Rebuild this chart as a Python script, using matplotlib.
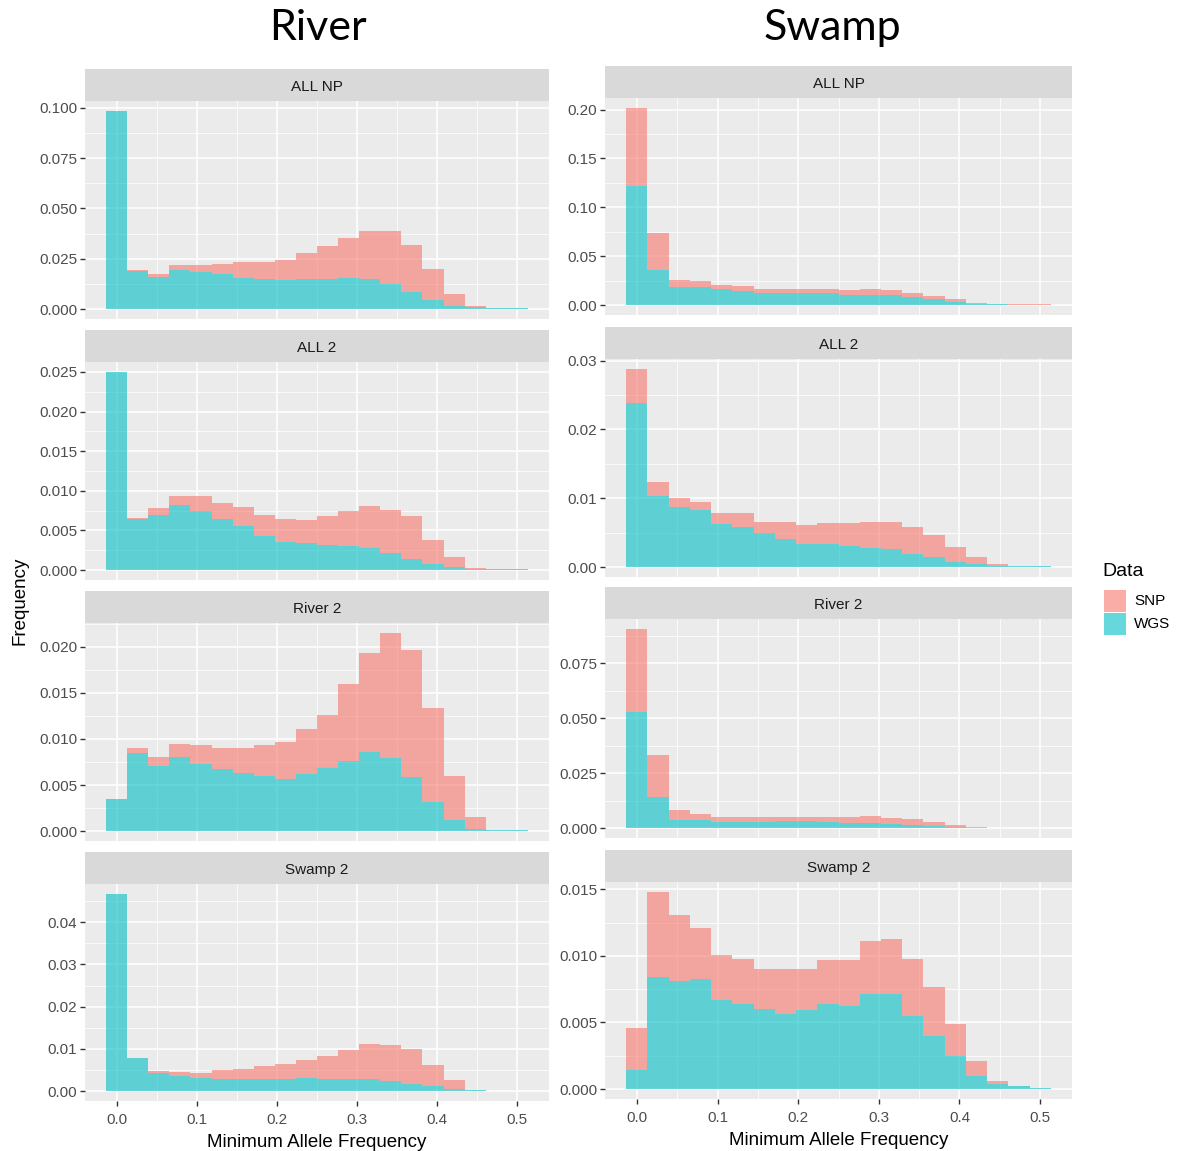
import numpy as np
import matplotlib
matplotlib.use("Agg")
import matplotlib.pyplot as plt

# bins=20 over [0, 0.5], centred on 0 (ggplot geom_histogram default boundary)
n_bins = 20
bin_width = 0.5 / (n_bins - 1)
maf = np.arange(n_bins) * bin_width

facets = ["ALL NP", "ALL 2", "River 2", "Swamp 2"]
columns = ["River", "Swamp"]

# River column: WGS (bottom of stack) and SNP (stacked on top), frequency per bin
river_allnp_wgs = [0.0985, 0.0187, 0.016, 0.0192, 0.0185, 0.0174, 0.0157, 0.015, 0.0144, 0.015,
                   0.015, 0.0155, 0.015, 0.0125, 0.0083, 0.0047, 0.0017, 0.0008, 0.0004, 0.0003]
river_allnp_snp = [0, 0.0008, 0.0015, 0.0025, 0.0032, 0.0051, 0.0075, 0.0082, 0.0101, 0.0127,
                   0.0162, 0.0199, 0.0236, 0.0261, 0.0237, 0.0152, 0.006, 0.0009, 0.0003, 0.0002]

river_all2_wgs = [0.025, 0.0065, 0.0069, 0.0082, 0.0075, 0.0064, 0.0056, 0.0043, 0.0036, 0.0034,
                  0.0032, 0.003, 0.0028, 0.0022, 0.0014, 0.0008, 0.0004, 0.0002, 0.0001, 0.0002]
river_all2_snp = [0, 0.0001, 0.0009, 0.0012, 0.0019, 0.0021, 0.0023, 0.0026, 0.0029, 0.0029,
                  0.0036, 0.0044, 0.0053, 0.0054, 0.0054, 0.003, 0.0013, 0.0001, 0.0001, 0]

river_river2_wgs = [0.0035, 0.0085, 0.0071, 0.008, 0.0073, 0.0067, 0.0063, 0.006, 0.0056, 0.0062,
                    0.0068, 0.0076, 0.0086, 0.0079, 0.0059, 0.0032, 0.0012, 0.0002, 0.0001, 0.0001]
river_river2_snp = [0, 0.0005, 0.0009, 0.0014, 0.002, 0.0023, 0.0027, 0.0033, 0.0041, 0.0049,
                    0.0058, 0.0084, 0.0107, 0.0136, 0.0138, 0.0101, 0.0048, 0.0013, 0, 0]

river_swamp2_wgs = [0.0467, 0.0079, 0.0043, 0.0036, 0.0032, 0.0029, 0.0029, 0.0028, 0.0028, 0.0031,
                    0.0029, 0.0028, 0.0028, 0.0025, 0.0017, 0.0012, 0.0005, 0.0002, 0.0001, 0.0001]
river_swamp2_snp = [0, 0, 0.0005, 0.001, 0.0011, 0.002, 0.0024, 0.0031, 0.0037, 0.0043,
                    0.0055, 0.0069, 0.0084, 0.0085, 0.0082, 0.0049, 0.0022, 0.0001, 0, 0]

# Swamp column
swamp_allnp_wgs = [0.122, 0.0363, 0.0186, 0.0183, 0.016, 0.0146, 0.0129, 0.0125, 0.0125, 0.0119,
                   0.0108, 0.0108, 0.0105, 0.0081, 0.0058, 0.0027, 0.0014, 0.0007, 0.0004, 0.0004]
swamp_allnp_snp = [0.0797, 0.0373, 0.0074, 0.0061, 0.005, 0.0047, 0.0037, 0.0035, 0.0035, 0.0047,
                   0.0045, 0.0052, 0.0048, 0.0044, 0.0037, 0.0031, 0.0006, 0.0003, 0.0003, 0.0003]

swamp_all2_wgs = [0.0238, 0.0103, 0.0087, 0.0083, 0.0063, 0.0058, 0.0049, 0.0041, 0.0033, 0.0033,
                  0.003, 0.0028, 0.0026, 0.0019, 0.0014, 0.0008, 0.0004, 0.0002, 0.0001, 0.0001]
swamp_all2_snp = [0.005, 0.002, 0.0013, 0.0012, 0.0015, 0.002, 0.0017, 0.0025, 0.0028, 0.0031,
                  0.0034, 0.0038, 0.004, 0.0039, 0.0033, 0.0021, 0.001, 0.0002, 0.0001, 0.0001]

swamp_river2_wgs = [0.0527, 0.0141, 0.0038, 0.0038, 0.0029, 0.0026, 0.0026, 0.003, 0.003, 0.0026,
                    0.0023, 0.0023, 0.0017, 0.0014, 0.0009, 0.0005, 0.0002, 0.0001, 0.0001, 0.0001]
swamp_river2_snp = [0.0378, 0.0189, 0.0042, 0.0024, 0.0021, 0.0024, 0.0024, 0.002, 0.002, 0.0024,
                    0.0027, 0.0033, 0.0029, 0.0026, 0.0017, 0.0009, 0.0001, 0.0001, 0, 0]

swamp_swamp2_wgs = [0.0014, 0.0084, 0.0081, 0.0083, 0.0067, 0.0064, 0.006, 0.0056, 0.0059, 0.0064,
                    0.0062, 0.0071, 0.0071, 0.0055, 0.004, 0.0025, 0.00095, 0.0004, 0.0002, 0.0001]
swamp_swamp2_snp = [0.0032, 0.0064, 0.005, 0.0038, 0.0034, 0.0034, 0.003, 0.0034, 0.0031, 0.0033,
                    0.0035, 0.004, 0.0042, 0.0043, 0.0037, 0.0024, 0.00115, 0.0002, 0.00005, 0]

# y tick step and label decimals per panel
river_yticks = [(0.025, 3), (0.005, 3), (0.005, 3), (0.01, 2)]
swamp_yticks = [(0.05, 2), (0.01, 2), (0.025, 3), (0.005, 3)]

panel_data = {
    "River": [(river_allnp_wgs, river_allnp_snp), (river_all2_wgs, river_all2_snp),
              (river_river2_wgs, river_river2_snp), (river_swamp2_wgs, river_swamp2_snp)],
    "Swamp": [(swamp_allnp_wgs, swamp_allnp_snp), (swamp_all2_wgs, swamp_all2_snp),
              (swamp_river2_wgs, swamp_river2_snp), (swamp_swamp2_wgs, swamp_swamp2_snp)],
}
tick_steps = {"River": river_yticks, "Swamp": swamp_yticks}

SNP_COL = "#F8766D"
WGS_COL = "#00BFC4"
ALPHA = 0.6
W, H = 1179, 1151

plt.rcParams["font.family"] = ["Liberation Sans", "DejaVu Sans"]
fig = plt.figure(figsize=(W / 100, H / 100), dpi=100)

# pixel layout (left, right) per column and (top, bottom) of each panel
col_x = {"River": (85, 549), "Swamp": (605, 1072)}
row_y = {"River": [(101, 319), (362, 580), (623, 841), (884, 1101)],
         "Swamp": [(98, 315), (359, 577), (619, 838), (882, 1099)]}
title_x = {"River": 318, "Swamp": 832}
strip_h = 32


def px_rect(x0, x1, top, bottom):
    return [x0 / W, 1 - bottom / H, (x1 - x0) / W, (bottom - top) / H]


for col in columns:
    x0, x1 = col_x[col]
    for i, name in enumerate(facets):
        top, bottom = row_y[col][i]
        wgs, snp = panel_data[col][i]
        wgs = np.array(wgs)
        snp = np.array(snp)
        ax = fig.add_axes(px_rect(x0, x1, top, bottom))
        ax.set_facecolor("#EBEBEB")
        ax.bar(maf, wgs, width=bin_width, color=WGS_COL, alpha=ALPHA, linewidth=0, zorder=3)
        ax.bar(maf, snp, bottom=wgs, width=bin_width, color=SNP_COL, alpha=ALPHA, linewidth=0, zorder=3)

        ymax = (wgs + snp).max()
        ax.set_ylim(-0.05 * ymax, 1.05 * ymax)
        xr = n_bins * bin_width
        ax.set_xlim(-bin_width / 2 - 0.05 * xr, maf[-1] + bin_width / 2 + 0.05 * xr)

        step, dec = tick_steps[col][i]
        yt = np.arange(0, 1.05 * ymax, step)
        ax.set_yticks(yt)
        ax.set_yticklabels([f"{v:.{dec}f}" for v in yt])
        ax.set_yticks(np.arange(step / 2, 1.05 * ymax, step), minor=True)
        xt = np.arange(0, 0.51, 0.1)
        ax.set_xticks(xt)
        ax.set_xticks(np.arange(0.05, 0.55, 0.1), minor=True)
        ax.grid(which="major", color="white", linewidth=1.1, zorder=0)
        ax.grid(which="minor", color="white", linewidth=0.55, zorder=0)
        ax.set_axisbelow(True)
        for s in ax.spines.values():
            s.set_visible(False)
        ax.tick_params(which="minor", length=0)
        ax.tick_params(axis="y", which="major", length=3.5, width=1, color="#333333",
                       labelsize=11, labelcolor="#4D4D4D", pad=2)
        if i == 3:
            ax.set_xticklabels([f"{v:.1f}" for v in xt])
            ax.tick_params(axis="x", which="major", length=3.5, width=1, color="#333333",
                           labelsize=11, labelcolor="#4D4D4D", pad=5)
            ax.set_xlabel("Minimum Allele Frequency", fontsize=13.5, color="black", labelpad=5)
        else:
            ax.tick_params(axis="x", which="major", length=0, labelbottom=False)

        # facet strip
        sax = fig.add_axes(px_rect(x0, x1, top - strip_h, top))
        sax.set_facecolor("#D9D9D9")
        sax.set_xticks([])
        sax.set_yticks([])
        for s in sax.spines.values():
            s.set_visible(False)
        sax.text(0.5, 0.45, name, ha="center", va="center", fontsize=11, color="#1A1A1A",
                 transform=sax.transAxes)

    fig.text(title_x[col] / W, 1 - 28 / H, col, ha="center", va="center",
             fontsize=31, family=["Lato", "DejaVu Sans"])

fig.text(20 / W, 1 - 601 / H, "Frequency", rotation=90, ha="center", va="center", fontsize=13.5)

# legend
fig.text(1102 / W, 1 - 571 / H, "Data", ha="left", va="center", fontsize=14)
for j, (lab, c) in enumerate([("SNP", SNP_COL), ("WGS", WGS_COL)]):
    ytop = 590 + j * 23
    kax = fig.add_axes(px_rect(1104, 1126, ytop, ytop + 22))
    kax.set_facecolor("#F2F2F2")
    kax.add_patch(plt.Rectangle((0, 0), 1, 1, color=c, alpha=ALPHA, linewidth=0))
    kax.set_xlim(0, 1)
    kax.set_ylim(0, 1)
    kax.axis("off")
    fig.text(1134 / W, 1 - (ytop + 11) / H, lab, ha="left", va="center", fontsize=11)

fig.savefig("out.png", dpi=100)
